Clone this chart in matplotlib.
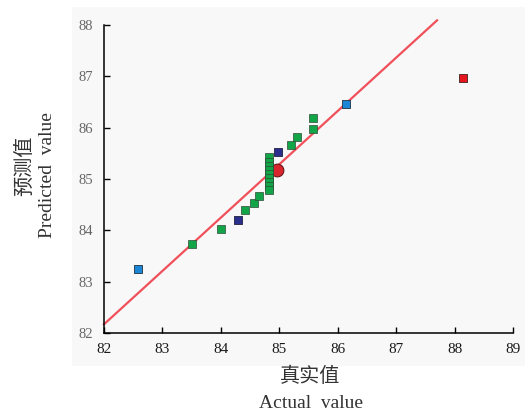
import matplotlib
matplotlib.use("Agg")
import matplotlib.pyplot as plt
from matplotlib.patches import Rectangle

# Data
green_actual = [83.51, 84.01, 84.41, 84.57, 84.65,
                84.83, 84.83, 84.83, 84.83, 84.83, 84.83, 84.83, 84.83, 84.83,
                85.20, 85.31, 85.58, 85.58]
green_pred = [83.74, 84.02, 84.39, 84.54, 84.67,
              85.42, 85.34, 85.26, 85.18, 85.10, 85.02, 84.94, 84.86, 84.78,
              85.67, 85.82, 85.98, 86.19]
blue_actual = [82.58, 86.14]
blue_pred = [83.25, 86.46]
navy_actual = [84.29, 84.97]
navy_pred = [84.21, 85.53]
red_actual = [88.15]
red_pred = [86.96]
center_actual = [84.96]
center_pred = [85.18]
line_x = [82.0, 87.70]
line_y = [82.17, 88.09]
xticks = [82, 83, 84, 85, 86, 87, 88, 89]
yticks = [82, 83, 84, 85, 86, 87, 88]

W, H = 525, 415
fig = plt.figure(figsize=(W / 100, H / 100), dpi=100)
fig.patch.set_facecolor("white")
bg = Rectangle((72 / W, 1 - 366 / H), (W - 72) / W, (366 - 7) / H,
               transform=fig.transFigure, facecolor="#f8f8f8",
               edgecolor="none", zorder=-10)
fig.patches.append(bg)

ax = fig.add_axes([104 / W, 1 - 333 / H, (513 - 104) / W, (333 - 14.7) / H])
ax.set_zorder(5)
ax.set_facecolor("none")
ax.set_xlim(82, 89)
ax.set_ylim(82, 88.2)

ax.plot(line_x, line_y, color="#f0505a", lw=1.6, zorder=2, clip_on=False)

ms = 40
ax.scatter(center_actual, center_pred, s=85, marker="o", color="#d8262e",
           edgecolor="#5a1010", linewidth=0.7, zorder=3)
ax.scatter(green_actual, green_pred, s=ms, marker="s", color="#12a548",
           edgecolor="#2f4a38", linewidth=0.5, zorder=4)
ax.scatter(blue_actual, blue_pred, s=ms, marker="s", color="#1a86d6",
           edgecolor="#203040", linewidth=0.6, zorder=4)
ax.scatter(navy_actual, navy_pred, s=ms, marker="s", color="#2a2f8e",
           edgecolor="#202040", linewidth=0.6, zorder=4)
ax.scatter(red_actual, red_pred, s=ms, marker="s", color="#e5161e",
           edgecolor="#402020", linewidth=0.6, zorder=4)

for s in ["top", "right"]:
    ax.spines[s].set_visible(False)
ax.spines["left"].set_bounds(82, 88)
ax.spines["left"].set_linewidth(1.1)
ax.spines["bottom"].set_linewidth(1.1)

ax.set_xticks(xticks)
ax.set_yticks(yticks)
ax.set_xticklabels([str(t) for t in xticks], family="Liberation Serif",
                   fontsize=11, color="#1a1a1a")
ax.set_yticklabels([str(t) for t in yticks], family="Liberation Serif",
                   fontsize=10.5, color="#666666")
ax.tick_params(axis="both", direction="in", length=4, width=1.0)
ax.tick_params(axis="x", pad=7)
ax.tick_params(axis="y", pad=8)

fam = ["Liberation Serif", "Noto Sans CJK SC"]
fig.text(310 / W, 1 - 376 / H, "真实值", family=["Noto Sans CJK SC"], fontsize=14.5,
         color="#333333", ha="center", va="center")
fig.text(311 / W, 1 - 403 / H, "Actual  value", family=fam, fontsize=14,
         color="#333333", ha="center", va="center")
fig.text(25 / W, 1 - 166 / H, "预测值", family=["Noto Sans CJK SC"], fontsize=14.5,
         color="#333333", ha="center", va="center", rotation=90)
fig.text(48 / W, 1 - 175 / H, "Predicted  value", family=fam, fontsize=14,
         color="#333333", ha="center", va="center", rotation=90)

fig.savefig("out.png", dpi=100, facecolor="white")
